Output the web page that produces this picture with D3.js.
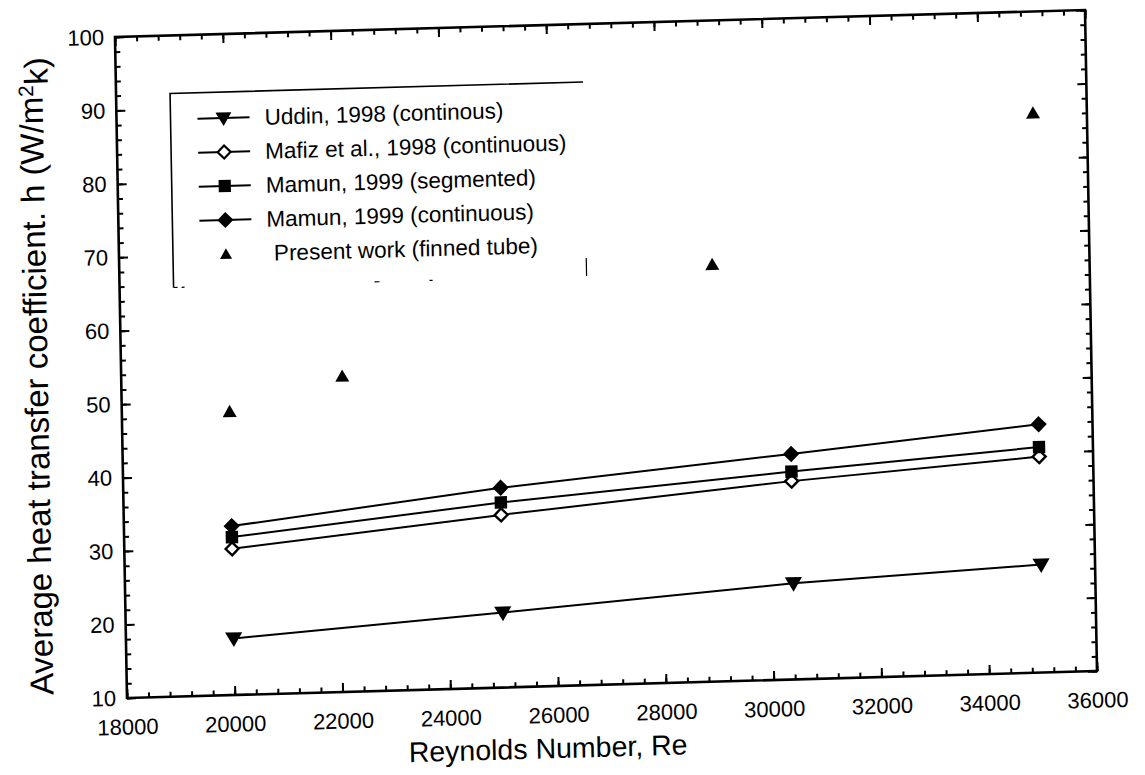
<!DOCTYPE html>
<html>
<head>
<meta charset="utf-8">
<script src="https://cdn.jsdelivr.net/npm/d3@7"></script>
<style>
  html, body { margin: 0; padding: 0; background: #fff; }
  svg { display: block; }
  text { font-family: "Liberation Sans", Arial, sans-serif; fill: #000; }
</style>
</head>
<body>
<svg id="chart" width="1145" height="775"></svg>
<script>
// Reynolds numbers of the line series
const reynolds = [20000, 25000, 30400, 35000];
// Average heat transfer coefficient, W/m²K
const uddin = [17.7, 20.2, 23.1, 24.7];
const mafiz = [29.9, 33.5, 37.0, 39.4];
const mamunSeg = [31.5, 35.2, 38.3, 40.7];
const mamunCont = [33.0, 37.2, 40.7, 43.8];
// Present work (finned tube), markers only
const presentRe = [20000, 22100, 29000, 35000];
const presentH = [48.6, 53.0, 66.8, 86.2];

const xTicks = d3.range(18000, 36001, 2000);
const xMinor = d3.range(18000, 36001, 400);
const yTicks = d3.range(10, 101, 10);
const yMinor = d3.range(10, 101, 2);

const legendLabels = [
  "Uddin, 1998 (continous)",
  "Mafiz et al., 1998 (continuous)",
  "Mamun, 1999 (segmented)",
  "Mamun, 1999 (continuous)",
  "Present work (finned tube)"
];

const W = 970, H = 661;
const svg = d3.select("#chart");
svg.append("rect").attr("width", 1145).attr("height", 775).attr("fill", "#fff");

// the printed figure sits slightly askew on the page
const g = svg.append("g").attr("transform", "matrix(1,-0.0278,0.01815,1,115,37)");

const x = d3.scaleLinear().domain([18000, 36000]).range([0, W]);
const y = d3.scaleLinear().domain([10, 100]).range([H, 0]);

function styleAxis(sel) {
  sel.select(".domain").remove();
  sel.selectAll("line").attr("stroke", "#000").attr("stroke-width", 2);
  sel.selectAll("text").attr("font-size", 22).attr("fill", "#000")
     .attr("font-family", "'Liberation Sans', Arial, sans-serif");
}

// bottom axis
g.append("g").attr("transform", `translate(0,${H})`)
  .call(d3.axisBottom(x).tickValues(xMinor).tickSize(-5).tickFormat(""))
  .call(styleAxis);
g.append("g").attr("transform", `translate(0,${H})`)
  .call(d3.axisBottom(x).tickValues(xTicks).tickSize(-9).tickPadding(21).tickFormat(d3.format("d")))
  .call(styleAxis);
// top axis
g.append("g")
  .call(d3.axisTop(x).tickValues(xMinor).tickSize(-5).tickFormat(""))
  .call(styleAxis);
g.append("g")
  .call(d3.axisTop(x).tickValues(xTicks).tickSize(-9).tickFormat(""))
  .call(styleAxis);
// left axis
g.append("g")
  .call(d3.axisLeft(y).tickValues(yMinor).tickSize(-5).tickFormat(""))
  .call(styleAxis);
g.append("g")
  .call(d3.axisLeft(y).tickValues(yTicks).tickSize(-9).tickPadding(11).tickFormat(d3.format("d")))
  .call(styleAxis);
// right axis
g.append("g").attr("transform", `translate(${W},0)`)
  .call(d3.axisRight(y).tickValues(yMinor).tickSize(-5).tickFormat(""))
  .call(styleAxis);
g.append("g").attr("transform", `translate(${W},0)`)
  .call(d3.axisRight(y).tickValues(yTicks).tickSize(-9).tickFormat(""))
  .call(styleAxis);

// plot frame
g.append("rect").attr("width", W).attr("height", H)
  .attr("fill", "none").attr("stroke", "#000").attr("stroke-width", 2.6);

// marker shapes
const mk = {
  down: r => `M${-r},${-r * 0.75}L${r},${-r * 0.75}L0,${r * 0.95}Z`,
  up: r => `M${-r},${r * 0.8}L${r},${r * 0.8}L0,${-r * 0.95}Z`,
  diamond: r => `M0,${-r}L${r},0L0,${r}L${-r},0Z`,
  square: r => `M${-r},${-r}H${r}V${r}H${-r}Z`
};

const series = [
  { values: uddin, shape: "down", size: 6.5, fill: "#000" },
  { values: mafiz, shape: "diamond", size: 6.5, fill: "#fff" },
  { values: mamunSeg, shape: "square", size: 5, fill: "#000" },
  { values: mamunCont, shape: "diamond", size: 6.5, fill: "#000" }
];

const line = d3.line().x((d, i) => x(reynolds[i])).y(d => y(d));

series.forEach(s => {
  g.append("path").datum(s.values).attr("d", line)
    .attr("fill", "none").attr("stroke", "#000").attr("stroke-width", 2);
});
series.forEach(s => {
  g.selectAll(null).data(s.values).enter().append("path")
    .attr("transform", (d, i) => `translate(${x(reynolds[i])},${y(d)})`)
    .attr("d", mk[s.shape](s.size))
    .attr("fill", s.fill).attr("stroke", "#000").attr("stroke-width", 2.4);
});

g.selectAll(null).data(presentH).enter().append("path")
  .attr("transform", (d, i) => `translate(${x(presentRe[i])},${y(d)})`)
  .attr("d", mk.up(7))
  .attr("fill", "#000");

// legend
const lg = g.append("g");
const boxL = 54, boxT = 58, boxR = 467, boxB = 252;
lg.append("path").attr("d", `M${boxL},${boxB}V${boxT}H${boxR}`)
  .attr("fill", "none").attr("stroke", "#000").attr("stroke-width", 1.6);
lg.append("path").attr("d", `M${boxR},${boxB - 18}V${boxB}`)
  .attr("fill", "none").attr("stroke", "#000").attr("stroke-width", 1.2);
lg.append("path").attr("d", `M${boxL},${boxB}H${boxR}`)
  .attr("fill", "none").attr("stroke", "#000").attr("stroke-width", 1.2)
  .attr("stroke-dasharray", "4,4,3,190,5,50,3,200");

const rowY0 = 84, rowStep = 34;
const legendItems = [
  { shape: "down", size: 6, fill: "#000", line: true },
  { shape: "diamond", size: 6.5, fill: "#fff", line: true },
  { shape: "square", size: 5, fill: "#000", line: true },
  { shape: "diamond", size: 6.5, fill: "#000", line: true },
  { shape: "up", size: 6, fill: "#000", line: false }
];
legendItems.forEach((it, i) => {
  const ry = rowY0 + i * rowStep;
  if (it.line) {
    lg.append("line").attr("x1", 81).attr("x2", 133).attr("y1", ry).attr("y2", ry)
      .attr("stroke", "#000").attr("stroke-width", 2);
  }
  lg.append("path").attr("transform", `translate(107,${ry})`)
    .attr("d", mk[it.shape](it.size))
    .attr("fill", it.fill).attr("stroke", it.shape === "up" ? "none" : "#000")
    .attr("stroke-width", 2.2);
  lg.append("text").attr("x", it.line ? 148 : 155).attr("y", ry).attr("dy", "0.35em")
    .attr("font-size", 22.5).text(legendLabels[i]);
});

// axis titles
g.append("text").attr("x", 420).attr("y", 723).attr("text-anchor", "middle")
  .attr("dy", "0.35em").attr("font-size", 28.5).text("Reynolds Number, Re");

const yt = g.append("text")
  .attr("transform", `translate(-85,337) rotate(-90)`)
  .attr("text-anchor", "middle").attr("dy", "0.35em").attr("font-size", 33);
yt.append("tspan").text("Average heat transfer coefficient. h (W/m");
yt.append("tspan").attr("dy", "-0.45em").attr("font-size", 21).text("2");
yt.append("tspan").attr("dy", "0.45em").text("k)");
</script>
</body>
</html>
